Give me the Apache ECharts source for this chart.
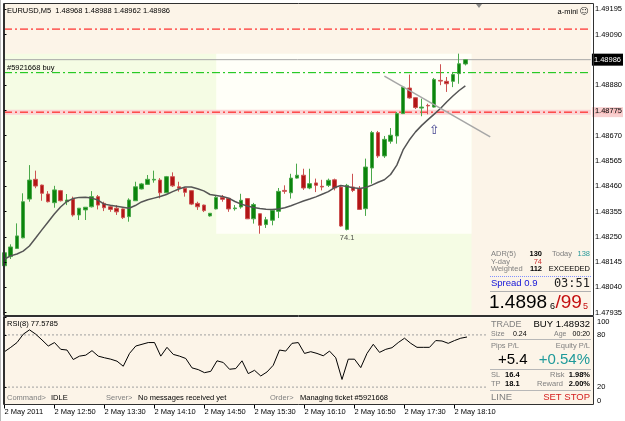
<!DOCTYPE html>
<html><head><meta charset="utf-8">
<script src="https://cdn.jsdelivr.net/npm/echarts@6/dist/echarts.min.js"></script>
<style>html,body{margin:0;padding:0;background:#fff;}#c{width:625px;height:421px;}</style>
</head><body><div id="c"></div>
<script>
// ---------- DATA ----------
const opens = [1.48130,1.48168,1.48202,1.48246,1.48407,1.48489,1.48465,1.48428,1.48392,1.48442,1.48396,1.48407,1.48341,1.48362,1.48375,1.48417,1.48389,1.48375,1.48369,1.48366,1.48334,1.48400,1.48449,1.48468,1.48486,1.48486,1.48433,1.48500,1.48458,1.48452,1.48442,1.48389,1.48382,1.48337,1.48366,1.48414,1.48410,1.48367,1.48374,1.48409,1.48325,1.48346,1.48301,1.48319,1.48356,1.48443,1.48433,1.48494,1.48506,1.48453,1.48474,1.48460,1.48464,1.48487,1.48457,1.48281,1.48457,1.48450,1.48367,1.48536,1.48683,1.48586,1.48647,1.48669,1.48762,1.48868,1.48828,1.48785,1.48796,1.48789,1.48900,1.48896,1.48896,1.48928,1.48968];
const closes = [1.48184,1.48208,1.48254,1.48396,1.48486,1.48461,1.48431,1.48396,1.48445,1.48400,1.48403,1.48341,1.48369,1.48373,1.48417,1.48382,1.48371,1.48364,1.48354,1.48330,1.48403,1.48458,1.48470,1.48489,1.48489,1.48433,1.48500,1.48462,1.48452,1.48435,1.48386,1.48375,1.48359,1.48348,1.48414,1.48406,1.48366,1.48370,1.48402,1.48325,1.48384,1.48298,1.48321,1.48360,1.48439,1.48439,1.48494,1.48506,1.48453,1.48471,1.48464,1.48457,1.48485,1.48453,1.48295,1.48464,1.48443,1.48364,1.48540,1.48683,1.48586,1.48655,1.48672,1.48762,1.48872,1.48827,1.48787,1.48789,1.48794,1.48904,1.48897,1.48886,1.48924,1.48969,1.48986];
const lows = [1.48121,1.48158,1.48200,1.48244,1.48396,1.48452,1.48400,1.48393,1.48371,1.48397,1.48382,1.48334,1.48320,1.48320,1.48372,1.48364,1.48357,1.48354,1.48341,1.48324,1.48313,1.48399,1.48447,1.48467,1.48475,1.48410,1.48432,1.48457,1.48438,1.48417,1.48382,1.48362,1.48353,1.48334,1.48364,1.48396,1.48354,1.48359,1.48367,1.48324,1.48305,1.48263,1.48287,1.48298,1.48328,1.48429,1.48409,1.48492,1.48445,1.48448,1.48436,1.48443,1.48457,1.48443,1.48292,1.48277,1.48436,1.48362,1.48337,1.48471,1.48578,1.48578,1.48637,1.48637,1.48760,1.48824,1.48781,1.48751,1.48759,1.48787,1.48880,1.48852,1.48872,1.48886,1.48962];
const highs = [1.48191,1.48219,1.48306,1.48431,1.48548,1.48525,1.48467,1.48440,1.48462,1.48445,1.48428,1.48417,1.48370,1.48374,1.48440,1.48424,1.48396,1.48382,1.48382,1.48368,1.48410,1.48479,1.48474,1.48507,1.48525,1.48494,1.48503,1.48518,1.48479,1.48453,1.48443,1.48396,1.48384,1.48349,1.48420,1.48424,1.48411,1.48382,1.48429,1.48410,1.48391,1.48347,1.48333,1.48362,1.48453,1.48464,1.48512,1.48554,1.48533,1.48533,1.48492,1.48487,1.48492,1.48492,1.48465,1.48470,1.48512,1.48461,1.48575,1.48690,1.48690,1.48669,1.48702,1.48769,1.48877,1.48924,1.48829,1.48824,1.48803,1.48910,1.48967,1.48914,1.48935,1.49011,1.48988];
const maValues = [1.48158,1.48171,1.48179,1.48191,1.48212,1.48245,1.48279,1.48312,1.48345,1.48374,1.48397,1.48409,1.48414,1.48415,1.48411,1.48403,1.48386,1.48381,1.48377,1.48373,1.48369,1.48380,1.48395,1.48404,1.48411,1.48418,1.48426,1.48438,1.48449,1.48457,1.48457,1.48450,1.48441,1.48426,1.48422,1.48418,1.48411,1.48397,1.48386,1.48378,1.48372,1.48368,1.48365,1.48364,1.48366,1.48371,1.48379,1.48389,1.48399,1.48407,1.48416,1.48427,1.48438,1.48455,1.48463,1.48459,1.48454,1.48451,1.48455,1.48465,1.48477,1.48487,1.48509,1.48548,1.48611,1.48652,1.48686,1.48713,1.48737,1.48760,1.48783,1.48810,1.48835,1.48858,1.48877];
const rsiValues = [60.7,65.7,71.2,80.8,85.8,80.8,74.2,67.2,71.2,63.4,62.6,51.7,55.6,56.7,61.9,55.6,53.7,52.1,49.8,44.0,58.7,67.2,69.2,71.2,71.2,55.6,65.7,57.6,55.6,52.9,42.1,40.1,36.6,38.1,50.2,48.3,40.5,41.3,50.2,35.5,39.3,32.8,37.4,45.1,62.6,61.4,70.3,71.2,58.7,60.7,58.7,56.0,61.4,53.7,28.8,52.1,52.1,42.4,58.7,69.2,59.9,63.4,65.3,71.2,76.2,70.3,65.7,65.7,65.7,73.5,73.0,70.3,73.5,76.2,77.58];
const priceTicks = [1.47935,1.48040,1.48145,1.48250,1.48355,1.48460,1.48565,1.48670,1.48775,1.48880,1.49090,1.49195];
const rsiTicks = [0,20,80,100];
const rsiLevels = [80,20];
const timeTickBars = [0,8,16,24,32,40,48,56,64,72];
const timeLabels = ['2 May 2011','2 May 12:50','2 May 13:30','2 May 14:10','2 May 14:50','2 May 15:30','2 May 16:10','2 May 16:50','2 May 17:30','2 May 18:10'];
const tpPrice = 1.49113, openPrice = 1.48932, slPrice = 1.48768, bidPrice = 1.48986;
const slLabel = '1.48766';
const trendLine = [[61.0, 1.48918],[78.0, 1.48665]];
const arrowPoint = [69.0, 1.48691];
const rangeLabel = {bar: 55, price: 1.48245, text: '74.1'};
const dayStartBar = 34, dayEndBar = 75;

// ---------- LAYOUT ----------
const X_MIN = -0.08, X_MAX = 94.16, LEVEL_END = 77.2;
const Y_MIN = 1.479213, Y_MAX = 1.492172;
const FF = '"Liberation Sans", Arial, sans-serif';
const boxHigh = Math.max(...highs.slice(dayStartBar));
const boxLow = Math.min(...lows.slice(dayStartBar));

const candleData = opens.map((o, i) => [i, o, closes[i], lows[i], highs[i]]);
const maData = maValues.map((v, i) => [i, v]);
const rsiData = rsiValues.map((v, i) => [i, v]);

function t(x, y, text, fill, size, align, weight, family) {
  return {type:'text', x:x, y:y, z:100, silent:true, style:{text:text, fill:fill,
    font:(weight||'normal') + ' ' + size + 'px ' + (family||FF), align:align||'left', verticalAlign:'middle'}};
}
function ln(x1, y1, x2, y2, color, w, dash) {
  return {type:'line', z:100, silent:true, shape:{x1:x1,y1:y1,x2:x2,y2:y2}, style:{stroke:color, lineWidth:w||1, lineDash:dash||null}};
}
const GRAY = '#808080';
const graphics = [
  ln(0.5, 0, 0.5, 421, '#b8b8b8', 1),
  {type:'rect', z:99, silent:true, shape:{x:3.5, y:3.5, width:590, height:312}, style:{fill:null, stroke:'#303030', lineWidth:1}},
  {type:'rect', z:99, silent:true, shape:{x:3.5, y:316.5, width:590, height:88}, style:{fill:null, stroke:'#303030', lineWidth:1}},
  {type:'polygon', z:100, silent:true, shape:{points:[[476,4],[482,4],[479,8]]}, style:{fill:'#8a8a8a'}},
  t(7, 11, 'EURUSD,M5  1.48968 1.48988 1.48962 1.48986', '#000', 7.5),
  t(7, 68, '#5921668 buy', '#000', 7.5),
  t(578, 12, 'a-mini', '#000', 7.5, 'right'),
  t(584, 12, '\u263A', '#303030', 9, 'center', 'normal', '"DejaVu Sans"'),
  // info panel (main)
  t(491, 254, 'ADR(5)', GRAY, 7.5),
  t(542, 254, '130', '#000', 7.5, 'right', 'bold'),
  t(552, 254, 'Today', GRAY, 7.5),
  t(590, 254, '138', '#2a9a9a', 7.5, 'right'),
  t(491, 261.5, 'Y-day', GRAY, 7.5),
  t(542, 261.5, '74', '#cc3333', 7.5, 'right'),
  t(491, 269, 'Weighted', GRAY, 7.5),
  t(542, 269, '112', '#000', 7.5, 'right', 'bold'),
  t(590, 269, 'EXCEEDED', '#000', 7.5, 'right'),
  ln(490, 276.5, 591, 276.5, '#8090ff', 1, [1,1]),
  t(491, 283.5, 'Spread 0.9', '#1414d8', 9.5),
  t(590, 284, '03:51', '#202020', 12, 'right', 'normal', '"DejaVu Sans Mono", monospace'),
  ln(490, 291.5, 591, 291.5, '#b0b0b0', 1),
  t(489, 303, '1.4898', '#000', 19),
  t(550, 306.5, '6', '#000', 9),
  t(555.5, 303, '/99', '#c41010', 19),
  t(583, 306.5, '5', '#c41010', 9),
  // RSI panel
  t(7, 323.5, 'RSI(8) 77.5785', '#000', 7.5),
  t(491, 324.5, 'TRADE', GRAY, 9),
  t(590, 324.5, 'BUY 1.48932', '#000', 9.5, 'right'),
  t(491, 334, 'Size', GRAY, 7),
  t(513, 334, '0.24', '#000', 7),
  t(554, 334, 'Age', GRAY, 7),
  t(590, 334, '00:20', '#000', 7, 'right'),
  ln(490, 339.5, 591, 339.5, '#b8b8b8', 1),
  t(491, 346, 'Pips P/L', GRAY, 7.5),
  t(590, 346, 'Equity P/L', GRAY, 7.5, 'right'),
  t(498, 360, '+5.4', '#000', 15),
  t(590, 360, '+0.54%', '#1f9a9a', 15, 'right'),
  ln(490, 369.5, 591, 369.5, '#b8b8b8', 1),
  t(491, 374.5, 'SL', GRAY, 7.5),
  t(505, 374.5, '16.4', '#000', 7.5, 'left', 'bold'),
  t(550, 374.5, 'Risk', GRAY, 7.5),
  t(590, 374.5, '1.98%', '#000', 7.5, 'right', 'bold'),
  t(491, 383.5, 'TP', GRAY, 7.5),
  t(505, 383.5, '18.1', '#000', 7.5, 'left', 'bold'),
  t(537, 383.5, 'Reward', GRAY, 7.5),
  t(590, 383.5, '2.00%', '#000', 7.5, 'right', 'bold'),
  ln(490, 390.5, 591, 390.5, '#b8b8b8', 1),
  t(491, 397.5, 'LINE', GRAY, 9.5),
  t(590, 397.5, 'SET STOP', '#d42020', 9.5, 'right'),
  t(7, 398, 'Command>', GRAY, 7.5),
  t(51, 398, 'IDLE', '#000', 7.5),
  t(106, 398, 'Server>', GRAY, 7.5),
  t(138, 398, 'No messages received yet', '#000', 7.5),
  t(270, 398, 'Order>', GRAY, 7.5),
  t(300, 398, 'Managing ticket #5921668', '#000', 7.5)
];

const dashDot = [8, 3, 2, 3];
function levelSeries(price, color, width, type, z, endLabel) {
  const s = {type:'line', xAxisIndex:0, yAxisIndex:0, z:z, silent:true, symbol:'none',
    data:[[X_MIN, price],[X_MAX, price]], lineStyle:{color:color, width:width, type:type}};
  if (endLabel) s.endLabel = endLabel;
  return s;
}
const option = {
  animation: false,
  backgroundColor: '#ffffff',
  textStyle: {fontFamily: FF},
  grid: [
    {left:4, top:4, width:589, height:312, show:true, backgroundColor:'#FCF4E8', borderWidth:0},
    {left:4, top:317.5, width:589, height:87, show:true, backgroundColor:'#FCF4E8', borderWidth:0}
  ],
  xAxis: [
    {type:'value', gridIndex:0, min:X_MIN, max:X_MAX, show:false},
    {type:'value', gridIndex:1, min:X_MIN, max:X_MAX,
      axisLine:{show:false}, splitLine:{show:false},
      axisTick:{show:true, customValues:timeTickBars, length:4, lineStyle:{color:'#000'}},
      axisLabel:{show:true, customValues:timeTickBars, align:'left', margin:3, fontSize:7.5, color:'#000', fontFamily:FF,
        formatter:(v)=>{const k = timeTickBars.indexOf(Math.round(v)); return k>=0 ? timeLabels[k] : '';}}}
  ],
  yAxis: [
    {type:'value', gridIndex:0, position:'right', min:Y_MIN, max:Y_MAX, z:5,
      axisLine:{show:true, lineStyle:{color:'#303030'}}, splitLine:{show:false},
      axisTick:{show:true, customValues:priceTicks, length:2, lineStyle:{color:'#000'}},
      axisLabel:{show:true, customValues:priceTicks, margin:4, fontSize:7.5, color:'#000', fontFamily:FF,
        formatter:(v)=>v.toFixed(5)}},
    {type:'value', gridIndex:1, position:'right', min:0, max:100, z:5,
      axisLine:{show:true, lineStyle:{color:'#303030'}}, splitLine:{show:false},
      axisTick:{show:true, customValues:rsiTicks, length:2, lineStyle:{color:'#000'}},
      axisLabel:{show:true, customValues:rsiTicks, margin:4, fontSize:7.5, color:'#000', fontFamily:FF,
        verticalAlignMinLabel:'bottom', verticalAlignMaxLabel:'top', formatter:(v)=>String(Math.round(v))}}
  ],
  series: [
    {type:'line', xAxisIndex:0, yAxisIndex:0, z:1, silent:true, symbol:'none',
      data:[[X_MIN, boxLow],[X_MIN, boxLow]], lineStyle:{opacity:0},
      markArea:{silent:true, data:[
        [{coord:[X_MIN, boxHigh], itemStyle:{color:'#F5FCE4'}}, {coord:[dayEndBar, Y_MIN]}],
        [{coord:[dayStartBar, boxHigh], itemStyle:{color:'#FFFFF8'}}, {coord:[dayEndBar, boxLow]}]
      ]}
    },
    levelSeries(slPrice, '#fbd4d4', 5, 'solid', 2),
    levelSeries(tpPrice, '#ff0000', 1, dashDot, 2),
    levelSeries(slPrice, '#ff0000', 1, dashDot, 2,
      {show:true, formatter:slLabel, distance:1, backgroundColor:'#f9d0d0', color:'#f0a8a8', fontSize:7.5, padding:[1,2], fontFamily:FF}),
    levelSeries(openPrice, '#00c000', 1, dashDot, 2),
    levelSeries(bidPrice, '#a8a8a8', 1, 'solid', 2,
      {show:true, formatter:bidPrice.toFixed(5), distance:1, backgroundColor:'#000', color:'#fff', fontSize:7.5, padding:[2,2], fontFamily:FF}),
    {type:'candlestick', name:'EURUSD', xAxisIndex:0, yAxisIndex:0, z:3,
      dimensions:['idx','open','close','lowest','highest'],
      encode:{x:'idx', y:['open','close','lowest','highest']},
      data:candleData, barWidth:4,
      itemStyle:{color:'#0c840c', color0:'#b21616', borderColor:'#4aa84a', borderColor0:'#cc5252', borderWidth:1}
    },
    {type:'line', name:'MA', xAxisIndex:0, yAxisIndex:0, z:4, data:maData, symbol:'none',
      lineStyle:{color:'#555555', width:1.5}},
    {type:'line', name:'Trend', xAxisIndex:0, yAxisIndex:0, z:4, data:trendLine, symbol:'none',
      lineStyle:{color:'#a6a6a6', width:1.5}},
    {type:'scatter', xAxisIndex:0, yAxisIndex:0, z:5, symbolSize:0, silent:true,
      data:[{value:arrowPoint, label:{show:true, position:'inside', formatter:'\u21E7', color:'#0a0a70', fontSize:13, fontFamily:'"DejaVu Sans"'}},
            {value:[rangeLabel.bar, rangeLabel.price], label:{show:true, position:'inside', formatter:rangeLabel.text, color:'#202020', fontSize:7.5}}]},
    {type:'line', name:'RSI', xAxisIndex:1, yAxisIndex:1, z:4, data:rsiData, symbol:'none',
      lineStyle:{color:'#000', width:1}},
    ...rsiLevels.map(v => ({type:'line', xAxisIndex:1, yAxisIndex:1, z:2, silent:true, symbol:'none',
      data:[[X_MIN, v],[LEVEL_END, v]], lineStyle:{color:'#a0a0a0', width:1, type:[2,2]}}))
  ],
  graphic: graphics
};
const chart = echarts.init(document.getElementById('c'));
chart.setOption(option);
</script></body></html>
